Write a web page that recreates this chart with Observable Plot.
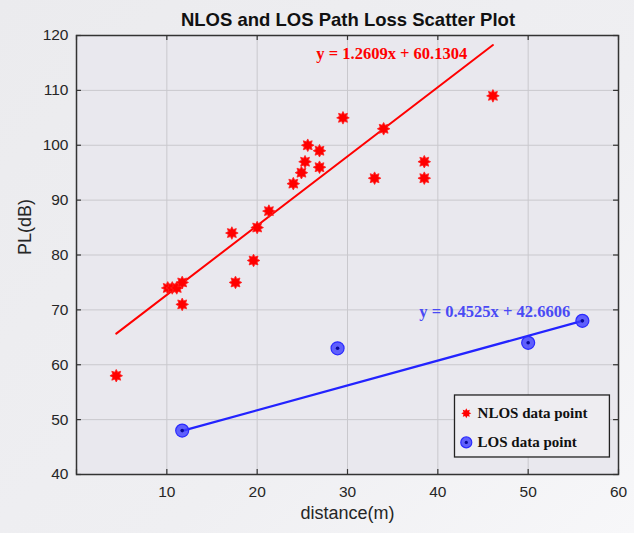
<!DOCTYPE html>
<html>
<head>
<meta charset="utf-8">
<script src="https://cdn.jsdelivr.net/npm/d3@7"></script>
<script src="https://cdn.jsdelivr.net/npm/@observablehq/plot@0.6"></script>
<style>
  html, body { margin: 0; padding: 0; }
  body {
    width: 634px; height: 533px; overflow: hidden;
    background: linear-gradient(135deg, #ebebee 0%, #efeff2 60%, #f7f7f9 100%);
    font-family: "Liberation Sans", Arial, sans-serif;
  }
  #title {
    height: 20px; line-height: 40px; box-sizing: border-box; white-space: nowrap;
    padding-left: 62px; text-align: center;
    font-weight: bold; font-size: 18.5px; color: #111;
  }
</style>
</head>
<body>
<div id="title">NLOS and LOS Path Loss Scatter Plot</div>
<div id="chart"></div>
<script>
// ---- data ----
const nlosDistance = [4.4, 10.1, 10.6, 11.1, 11.7, 11.7, 17.2, 17.6, 19.6, 20.0, 21.3, 24.0, 24.9, 25.3, 25.6, 26.9, 26.9, 29.5, 33.0, 34.0, 38.5, 38.5, 46.1];
const nlosPL       = [58,   74,   74,   74,   75,   71,   84,   75,   79,   85,   88,   93,   95,   97,   100,  99,   96,   105,  94,   103,  97,   94,   109];
const losDistance = [11.7, 28.9, 50.0, 56.0];
const losPL       = [48,   63,   64,   68];
const nlosFit = {slope: 1.2609, intercept: 60.1304, xRange: [4.4, 46.1], label: "y = 1.2609x + 60.1304"};
const losFit  = {slope: 0.4525, intercept: 42.6606, xRange: [11.7, 56.0], label: "y = 0.4525x + 42.6606"};
const xTicks = [10, 20, 30, 40, 50, 60];
const yTicks = [40, 50, 60, 70, 80, 90, 100, 110, 120];
const legendLabels = ["NLOS data point", "LOS data point"];

const nlos = nlosDistance.map((d, i) => ({d, pl: nlosPL[i]}));
const los = losDistance.map((d, i) => ({d, pl: losPL[i]}));
const fitLine = f => f.xRange.map(x => ({d: x, pl: f.slope * x + f.intercept}));

// 8-point burst marker (MATLAB-like '*')
const burst = {
  draw(ctx, size) {
    const R = Math.sqrt(size / Math.PI);
    const r = R * 0.6;
    for (let i = 0; i < 16; i++) {
      const a = i * Math.PI / 8 - Math.PI / 2;
      const rad = i % 2 ? r : R;
      const px = rad * Math.cos(a), py = rad * Math.sin(a);
      if (i === 0) ctx.moveTo(px, py); else ctx.lineTo(px, py);
    }
    ctx.closePath();
  }
};

const red = "#ff0000";
const blue = "#2323ff";
const serif = "'Liberation Serif', 'Times New Roman', serif";

const allXTicks = [0, ...xTicks];

const chart = Plot.plot({
  width: 634,
  height: 513,
  marginTop: 15,
  marginBottom: 59,
  marginLeft: 76,
  marginRight: 16,
  style: {background: "transparent", fontFamily: "'Liberation Sans', Arial, sans-serif"},
  x: {domain: [0, 60]},
  y: {domain: [40, 120]},
  marks: [
    Plot.frame({fill: "#e9e8ee", stroke: null}),
    Plot.gridX(xTicks.slice(0, -1), {stroke: "#c9c8cd", strokeOpacity: 1, strokeWidth: 1}),
    Plot.gridY(yTicks.slice(1, -1), {stroke: "#c9c8cd", strokeOpacity: 1, strokeWidth: 1}),
    // inner ticks
    Plot.ruleX(allXTicks, {y1: 40, y2: 40.9, stroke: "#333", strokeWidth: 1.2}),
    Plot.ruleX(allXTicks, {y1: 120, y2: 119.1, stroke: "#333", strokeWidth: 1.2}),
    Plot.ruleY(yTicks, {x1: 0, x2: 0.55, stroke: "#333", strokeWidth: 1.2}),
    Plot.ruleY(yTicks, {x1: 60, x2: 59.45, stroke: "#333", strokeWidth: 1.2}),
    Plot.frame({stroke: "#333", strokeWidth: 1.5}),
    Plot.axisX(xTicks, {tickSize: 0, tickPadding: 11, fontSize: 15.5, fill: "#262626", label: null}),
    Plot.axisY(yTicks, {tickSize: 0, tickPadding: 8, fontSize: 15.5, fill: "#262626", label: null}),
    Plot.text(["distance(m)"], {frameAnchor: "bottom", dy: 44, fontSize: 18, fill: "#262626"}),
    Plot.text(["PL(dB)"], {frameAnchor: "left", dx: -51, rotate: -90, fontSize: 18, fill: "#262626"}),
    // fit lines
    Plot.line(fitLine(nlosFit), {x: "d", y: "pl", stroke: red, strokeWidth: 2}),
    Plot.line(fitLine(losFit), {x: "d", y: "pl", stroke: blue, strokeWidth: 2.2}),
    // NLOS points
    Plot.dot(nlos, {x: "d", y: "pl", symbol: burst, r: 6.3, fill: red, stroke: "#ff2020", strokeWidth: 0.8}),
    // LOS points
    Plot.dot(los, {x: "d", y: "pl", r: 6.5, fill: "#3c3cff", fillOpacity: 0.8, stroke: "#2a2aff", strokeWidth: 1.2}),
    Plot.dot(los, {x: "d", y: "pl", r: 1.8, fill: "#0a0a9a"}),
    // equations
    Plot.text([nlosFit.label], {x: 34.9, y: 116.6, fontFamily: serif, fontWeight: "bold", fontSize: 16.5, fill: red}),
    Plot.text([losFit.label], {x: 46.3, y: 69.6, fontFamily: serif, fontWeight: "bold", fontSize: 16.5, fill: "#4a4af5"}),
    // legend
    Plot.rect([0], {x1: 41.9, x2: 59.05, y1: 43.1, y2: 54.4, fill: "#eeedf1", stroke: "#222", strokeWidth: 1.3}),
    Plot.dot([0], {x: 43.15, y: 51.15, symbol: burst, r: 5, fill: red}),
    Plot.dot([0], {x: 43.15, y: 45.85, r: 5.5, fill: "#3c3cff", fillOpacity: 0.8, stroke: "#2a2aff", strokeWidth: 1.2}),
    Plot.dot([0], {x: 43.15, y: 45.85, r: 1.6, fill: "#0a0a9a"}),
    Plot.text([legendLabels[0]], {x: 44.4, y: 51.15, textAnchor: "start", fontFamily: serif, fontWeight: "bold", fontSize: 15, fill: "#111"}),
    Plot.text([legendLabels[1]], {x: 44.4, y: 45.85, textAnchor: "start", fontFamily: serif, fontWeight: "bold", fontSize: 15, fill: "#111"})
  ]
});
document.getElementById("chart").appendChild(chart);
</script>
</body>
</html>
